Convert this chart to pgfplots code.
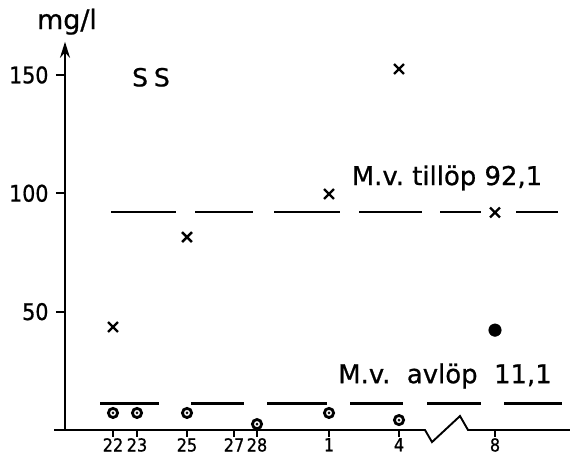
\documentclass[border=0pt]{standalone}
\usepackage{fontspec}
\setmainfont{DejaVu Sans}[FakeBold=0.8]
\newfontfamily\condfont{DejaVu Sans Condensed}[FakeBold=0.8]
\usepackage{pgfplots}
\pgfplotsset{compat=1.18}
\usetikzlibrary{arrows.meta}
\begin{document}
\begin{tikzpicture}[x=1bp,y=1bp]
\useasboundingbox (0,0) rectangle (570,457);
\begin{axis}[
  at={(65bp,27bp)}, anchor=south west,
  scale only axis, width=505bp, height=387bp,
  xmin=65, xmax=570, ymin=0, ymax=163.5,
  axis x line*=bottom, axis y line*=left,
  x axis line style={draw=none},
  y axis line style={draw=none},
  tick align=outside, major tick length=9bp,
  xtick style={/pgfplots/major tick length=7bp},
  every tick/.style={black, line width=1.8bp},
  xtick={113,137,187,234,257,329,399,495},
  xticklabels={22,23,25,27,28,1,4,8},
  ytick={50,100,150},
  /pgf/number format/assume math mode=true,
  xticklabel style={font=\condfont\fontsize{18}{20}\selectfont, inner sep=0bp, yshift=1bp},
  yticklabel style={font=\condfont\fontsize{23}{26}\selectfont, xshift=-4bp},
  clip=false,
  unbounded coords=jump,
]
% axes
\draw[black, line width=1.9bp, -{Stealth[length=16bp,width=10bp]}] (axis cs:65,0) -- (axis cs:65,164);
\addplot[black, line width=1.9bp] coordinates {(54,0)(425,0)(432,-5.1)(460,5.9)(468,0)(570,0)};
% mean inflow 92,1
\addplot[black, line width=2.8bp] coordinates {(111,92.1)(176,92.1)(176,nan)(195,92.1)(253,92.1)(253,nan)(274,92.1)(340,92.1)(340,nan)(359,92.1)(422,92.1)(422,nan)(440,92.1)(481,92.1)(481,nan)(516,92.1)(558,92.1)};
% mean outflow 11,1
\addplot[black, line width=2.8bp] coordinates {(100,11.1)(159,11.1)(159,nan)(191,11.1)(244,11.1)(244,nan)(267,11.1)(327,11.1)(327,nan)(350,11.1)(403,11.1)(403,nan)(427,11.1)(481,11.1)(481,nan)(504,11.1)(562,11.1)};
% inflow
\addplot[only marks, mark=x, mark size=7bp, line width=2.4bp, black] coordinates {(113,43.5)(187,81.5)(329,99.7)(399,152.5)(495,91.9)};
% outflow
\addplot[only marks, mark=o, mark size=4.6bp, line width=2.8bp, black] coordinates {(113,7.2)(137,7.2)(187,7.2)(257,2.5)(329,7.2)(399,4.2)};
\addplot[only marks, mark=*, mark size=1.2bp, black] coordinates {(113,7.2)(137,7.2)(187,7.2)(257,2.5)(329,7.2)(399,4.2)};
\addplot[only marks, mark=*, mark size=6.3bp, black] coordinates {(495,42.2)};
\node[font=\fontsize{27}{30}\selectfont] at (axis cs:67,172.5) {mg/l};
\node[font=\fontsize{25}{30}\selectfont] at (axis cs:151,149) {S\kern6bp S};
\node[font=\fontsize{26}{30}\selectfont] at (axis cs:447,106.5) {M.v.\ tillöp 92,1};
\node[font=\fontsize{26}{30}\selectfont] at (axis cs:445,22.8) {M.v.\ \ avlöp\ \ 11,1};
\end{axis}
\end{tikzpicture}
\end{document}
